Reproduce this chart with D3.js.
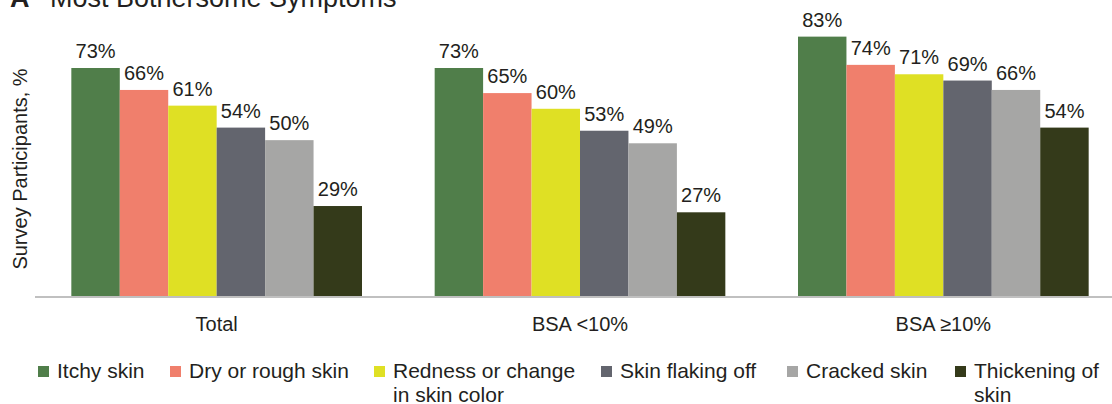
<!DOCTYPE html>
<html>
<head>
<meta charset="utf-8">
<script src="https://cdn.jsdelivr.net/npm/d3@7"></script>
<style>
  body { margin: 0; background: #fff; }
  text { font-family: "Liberation Sans", Arial, sans-serif; fill: #231f20; }
</style>
</head>
<body>
<script>
// data
var groups = ["Total", "BSA <10%", "BSA \u226510%"];
var symptoms = ["Itchy skin", "Dry or rough skin", "Redness or change in skin color",
                "Skin flaking off", "Cracked skin", "Thickening of skin"];
var total = [73, 66, 61, 54, 50, 29];
var bsaLow = [73, 65, 60, 53, 49, 27];
var bsaHigh = [83, 74, 71, 69, 66, 54];
var colors = ["#507e4a", "#f07f6c", "#dfe024", "#63656e", "#a6a6a5", "#343a1a"];

var values = [total, bsaLow, bsaHigh];

var width = 1112, height = 404;

var svg = d3.select("body").append("svg")
    .attr("width", width)
    .attr("height", height);

// title, cut off at the top like the reference
svg.append("text")
    .attr("x", 10).attr("y", 7)
    .attr("font-size", 27).attr("font-weight", "bold")
    .text("A");
svg.append("text")
    .attr("x", 50).attr("y", 7)
    .attr("font-size", 27)
    .text("Most Bothersome Symptoms");

// scales
var x0 = d3.scaleBand()
    .domain(groups)
    .range([35, 1125])
    .paddingInner(0.2)
    .paddingOuter(0.1);

var x1 = d3.scaleBand()
    .domain(d3.range(symptoms.length))
    .range([0, x0.bandwidth()]);

var y = d3.scaleLinear()
    .domain([0, 100])
    .range([297, -16.7]);

// bars
var g = svg.append("g");
groups.forEach(function(grp, gi) {
    var gg = g.append("g").attr("transform", "translate(" + x0(grp) + ",0)");
    gg.selectAll("rect")
        .data(values[gi])
        .enter().append("rect")
        .attr("x", function(d, i) { return x1(i); })
        .attr("width", x1.bandwidth())
        .attr("y", function(d) { return y(d); })
        .attr("height", function(d) { return y(0) - y(d); })
        .attr("fill", function(d, i) { return colors[i]; });
    gg.selectAll("text.val")
        .data(values[gi])
        .enter().append("text")
        .attr("class", "val")
        .attr("x", function(d, i) { return x1(i) + x1.bandwidth() / 2; })
        .attr("y", function(d) { return y(d) - 10; })
        .attr("text-anchor", "middle")
        .attr("font-size", 20)
        .text(function(d) { return d + "%"; });
});

// baseline axis
var xAxis = svg.append("g")
    .attr("transform", "translate(0," + y(0) + ")")
    .call(d3.axisBottom(x0).tickSize(0).tickPadding(20));
xAxis.select(".domain").attr("stroke", "#c0c0c0").attr("stroke-width", 2)
    .attr("d", "M35,0H1112");
xAxis.selectAll("text")
    .attr("font-size", 20)
    .attr("font-family", "Liberation Sans, Arial, sans-serif")
    .attr("fill", "#231f20");

// y label
svg.append("text")
    .attr("transform", "translate(27,169) rotate(-90)")
    .attr("text-anchor", "middle")
    .attr("font-size", 20)
    .text("Survey Participants, %");

// legend
var legendX = [38, 170, 374, 601, 787, 955];
var legendLines = [["Itchy skin"], ["Dry or rough skin"], ["Redness or change", "in skin color"],
                   ["Skin flaking off"], ["Cracked skin"], ["Thickening of", "skin"]];
var leg = svg.append("g");
symptoms.forEach(function(s, i) {
    leg.append("rect")
        .attr("x", legendX[i]).attr("y", 366)
        .attr("width", 11).attr("height", 11)
        .attr("fill", colors[i]);
    var t = leg.append("text")
        .attr("x", legendX[i] + 19).attr("y", 378)
        .attr("font-size", 21);
    legendLines[i].forEach(function(line, li) {
        t.append("tspan")
            .attr("x", legendX[i] + 19)
            .attr("dy", li === 0 ? 0 : 24)
            .text(line);
    });
});
</script>
</body>
</html>
